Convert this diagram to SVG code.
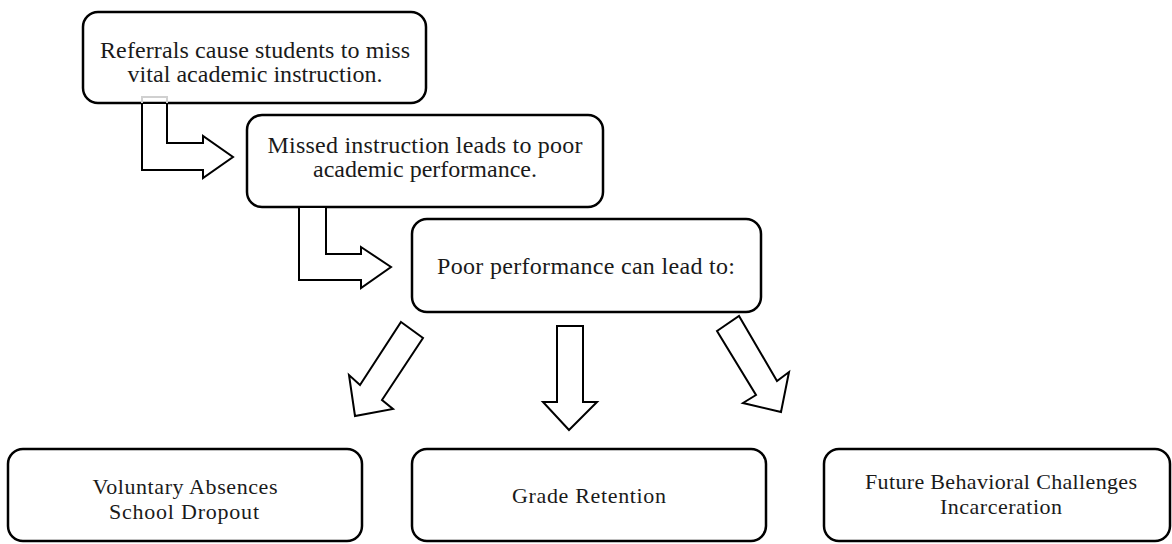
<svg xmlns="http://www.w3.org/2000/svg" width="1172" height="544" viewBox="0 0 1172 544">
<style>
.box{fill:#fff;stroke:#000;stroke-width:2.5}
.arr{fill:#fff;stroke:#000;stroke-width:2;stroke-linejoin:miter}
</style>
<rect width="1172" height="544" fill="#fff"/>
<g font-family="Liberation Serif, Times New Roman, serif" fill="#1a1a1a" text-anchor="middle">
<g id="n1">
<rect class="box" x="83" y="12" width="343" height="91" rx="15"/>
<text font-size="24" x="255" y="58" textLength="310" lengthAdjust="spacing">Referrals cause students to miss</text>
<text font-size="24" x="255" y="82" textLength="255" lengthAdjust="spacing">vital academic instruction.</text>
</g>
<g id="n2">
<rect class="box" x="247" y="115" width="356" height="92" rx="15"/>
<text font-size="24" x="425" y="153" textLength="315" lengthAdjust="spacing">Missed instruction leads to poor</text>
<text font-size="24" x="425" y="177" textLength="224" lengthAdjust="spacing">academic performance.</text>
</g>
<g id="n3">
<rect class="box" x="412" y="219" width="349" height="93" rx="15"/>
<text font-size="24" x="586" y="274" textLength="298" lengthAdjust="spacing">Poor performance can lead to:</text>
</g>
<g id="n4">
<rect class="box" x="8" y="449" width="354" height="92" rx="15"/>
<text font-size="22" x="185" y="494" textLength="185" lengthAdjust="spacing">Voluntary Absences</text>
<text font-size="22" x="184" y="519" textLength="150" lengthAdjust="spacing">School Dropout</text>
</g>
<g id="n5">
<rect class="box" x="412" y="449" width="354" height="92" rx="15"/>
<text font-size="22" x="589" y="503" textLength="154" lengthAdjust="spacing">Grade Retention</text>
</g>
<g id="n6">
<rect class="box" x="824" y="449" width="346" height="92" rx="15"/>
<text font-size="22" x="1001" y="489" textLength="272" lengthAdjust="spacing">Future Behavioral Challenges</text>
<text font-size="22" x="1001" y="514" textLength="122" lengthAdjust="spacing">Incarceration</text>
</g>
</g>
<g id="connectors">
<path d="M142,103 L142,97 L167,97 L167,103" fill="none" stroke="#d0d0d0" stroke-width="2"/>
<polygon points="142,104 167,104 167,143 203,143 203,136 233,157 203,178 203,170 142,170" fill="#fff"/>
<path class="arr" d="M167,104 L167,143 L203,143 L203,136 L233,157 L203,178 L203,170 L142,170 L142,104"/>
<path class="arr" d="M326,208 L326,254 L361,254 L361,247 L391,267 L361,288 L361,280 L299,280 L299,208"/>
<polygon class="arr" points="401,322 423,338 382,400 393,409 355,416 349,375 360,385"/>
<polygon class="arr" points="557,326 583,326 583,402 597,402 569,430 543,402 557,402"/>
<polygon class="arr" points="717,331 739,316 777,381 789,372 781,412 743,403 756,395"/>
</g>
</svg>
